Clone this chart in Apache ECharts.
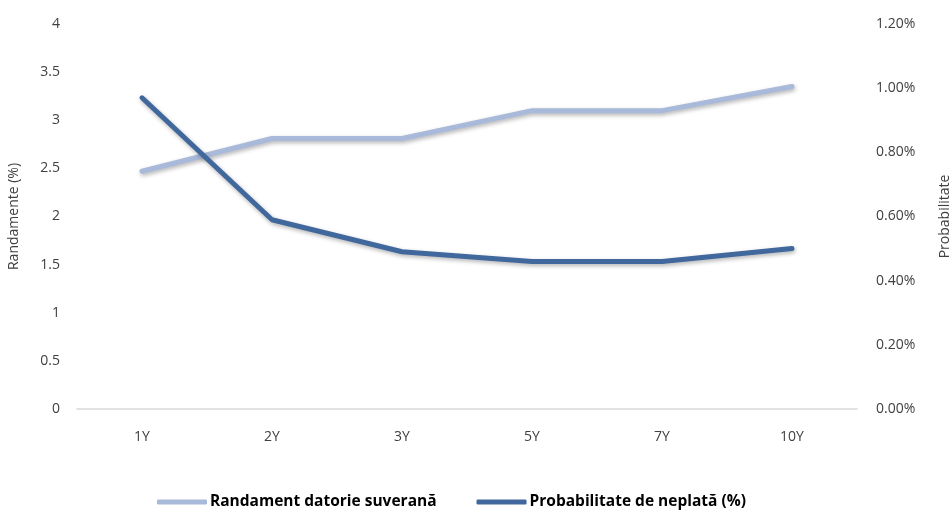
<!DOCTYPE html>
<html>
<head>
<meta charset="utf-8">
<script src="https://cdn.jsdelivr.net/npm/echarts@6/dist/echarts.min.js"></script>
<style>html,body{margin:0;padding:0;background:#fff}#c{width:951px;height:518px}</style>
</head>
<body>
<div id="c"></div>
<script>
var categories = ['1Y', '2Y', '3Y', '5Y', '7Y', '10Y'];
var randament = [2.47, 2.81, 2.81, 3.10, 3.10, 3.35];
var probabilitate = [0.97, 0.59, 0.49, 0.46, 0.46, 0.50];
var leftTicks = [0, 0.5, 1, 1.5, 2, 2.5, 3, 3.5, 4];
var seriesNames = ['Randament datorie suverană', 'Probabilitate de neplată (%)'];

var font = 'Open Sans';
var txt = '#404040';
var chart = echarts.init(document.getElementById('c'));
chart.setOption({
  animation: false,
  grid: { left: 77, right: 94, top: 24, bottom: 109, containLabel: false, outerBoundsMode: 'none' },
  legend: {
    bottom: 3, left: 152,
    itemWidth: 50, itemHeight: 5, itemGap: 40,
    icon: 'roundRect',
    textStyle: { fontFamily: font, fontSize: 15.5, fontWeight: 'bold', color: '#000', padding: [0, 0, 0, -2] },
    data: seriesNames
  },
  xAxis: {
    type: 'category', data: categories, boundaryGap: true,
    axisLine: { lineStyle: { color: '#D9D9D9', width: 1.5 } },
    axisTick: { show: false },
    axisLabel: { fontFamily: font, fontSize: 14, color: txt, margin: 21 }
  },
  yAxis: [{
    type: 'value', min: 0, max: 4, interval: 0.5,
    name: 'Randamente (%)', nameLocation: 'middle', nameGap: 56, nameRotate: 90,
    nameTextStyle: { fontFamily: font, fontSize: 14, color: txt },
    axisLine: { show: false }, axisTick: { show: false }, splitLine: { show: false },
    axisLabel: { fontFamily: font, fontSize: 14, color: txt, margin: 17,
      formatter: function (v) { return leftTicks.indexOf(v) >= 0 ? String(v) : ''; } }
  }, {
    type: 'value', min: 0, max: 1.2, interval: 0.2,
    name: 'Probabilitate', nameLocation: 'middle', nameGap: 81, nameRotate: 90,
    nameTextStyle: { fontFamily: font, fontSize: 14, color: txt },
    axisLine: { show: false }, axisTick: { show: false }, splitLine: { show: false },
    axisLabel: { fontFamily: font, fontSize: 14, color: txt, margin: 19,
      formatter: function (v) { return v.toFixed(2) + '%'; } }
  }],
  series: [{
    name: seriesNames[0], type: 'line', yAxisIndex: 0, data: randament,
    symbol: 'none', color: '#A9B9D9',
    lineStyle: { width: 5, color: '#A9B9D9', cap: 'round', join: 'round',
      shadowColor: 'rgba(0,0,0,0.3)', shadowBlur: 4, shadowOffsetY: 2, shadowOffsetX: 1 }
  }, {
    name: seriesNames[1], type: 'line', yAxisIndex: 1, data: probabilitate,
    symbol: 'none', color: '#41689C',
    lineStyle: { width: 5, color: '#41689C', cap: 'round', join: 'round',
      shadowColor: 'rgba(0,0,0,0.3)', shadowBlur: 4, shadowOffsetY: 2, shadowOffsetX: 1 }
  }]
});
</script>
</body>
</html>
